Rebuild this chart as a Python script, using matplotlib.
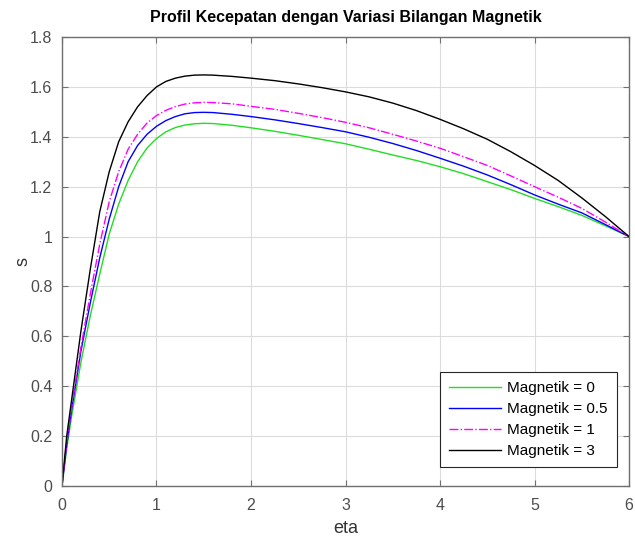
import numpy as np
import matplotlib
matplotlib.use("Agg")
import matplotlib.pyplot as plt
from matplotlib.ticker import FuncFormatter

plt.rcParams['font.family'] = ['Liberation Sans', 'DejaVu Sans']

# nilai
eta = [0, 0.05, 0.1, 0.15, 0.2, 0.3, 0.4, 0.5, 0.6, 0.7, 0.8, 0.9, 1.0,
       1.1, 1.2, 1.3, 1.4, 1.5, 1.6, 1.8, 2.0, 2.25, 2.5, 2.75, 3.0, 3.25,
       3.5, 3.75, 4.0, 4.25, 4.5, 4.75, 5.0, 5.25, 5.5, 5.75, 6.0]

s_m0 = [0, 0.15, 0.275, 0.385, 0.495, 0.683, 0.85, 1.01, 1.13, 1.225, 1.30,
        1.355, 1.393, 1.42, 1.437, 1.447, 1.452, 1.454, 1.453, 1.446, 1.436,
        1.422, 1.406, 1.389, 1.372, 1.35, 1.327, 1.305, 1.28, 1.252, 1.22,
        1.188, 1.153, 1.12, 1.085, 1.043, 1.0]

s_m05 = [0, 0.165, 0.30, 0.42, 0.54, 0.735, 0.915, 1.07, 1.20, 1.30, 1.365,
         1.41, 1.442, 1.465, 1.481, 1.492, 1.497, 1.498, 1.497, 1.49, 1.481,
         1.468, 1.453, 1.437, 1.42, 1.398, 1.373, 1.345, 1.314, 1.282, 1.247,
         1.208, 1.167, 1.13, 1.095, 1.048, 1.0]

s_m1 = [0, 0.175, 0.31, 0.435, 0.555, 0.77, 0.97, 1.14, 1.26, 1.35, 1.41,
        1.455, 1.485, 1.506, 1.521, 1.531, 1.536, 1.538, 1.537, 1.532, 1.522,
        1.51, 1.494, 1.477, 1.458, 1.436, 1.41, 1.383, 1.354, 1.32, 1.285,
        1.243, 1.20, 1.158, 1.113, 1.058, 1.0]

s_m3 = [0, 0.20, 0.34, 0.48, 0.62, 0.87, 1.10, 1.26, 1.38, 1.46, 1.52, 1.565,
        1.60, 1.622, 1.635, 1.643, 1.647, 1.648, 1.647, 1.642, 1.635, 1.625,
        1.612, 1.597, 1.58, 1.56, 1.535, 1.505, 1.47, 1.432, 1.39, 1.34,
        1.285, 1.225, 1.155, 1.08, 1.0]

labels = ['Magnetik = 0', 'Magnetik = 0.5', 'Magnetik = 1', 'Magnetik = 3']

fig = plt.figure(figsize=(6.35, 5.4), dpi=100)
ax = fig.add_axes([0.0976, 0.1, 0.893, 0.8315])

ax.plot(eta, s_m0, color='#22dd22', lw=1.0, label=labels[0])
ax.plot(eta, s_m05, color='#0000ff', lw=1.0, label=labels[1])
ax.plot(eta, s_m1, color='#ff00ff', lw=1.0, ls='-.', label=labels[2])
ax.plot(eta, s_m3, color='#000000', lw=1.0, label=labels[3])

ax.set_xlim(0, 6)
ax.set_ylim(0, 1.8)
ax.set_xticks(np.arange(0, 7, 1))
ax.set_yticks(np.arange(0, 1.81, 0.2))
ax.yaxis.set_major_formatter(FuncFormatter(lambda v, p: '%g' % round(v, 2)))
ax.grid(True, color='#dcdcdc', lw=0.8)
ax.set_axisbelow(True)

for sp in ax.spines.values():
    sp.set_color('#707070')
    sp.set_linewidth(1.0)
ax.tick_params(direction='in', length=4, colors='#707070', labelcolor='#4d4d4d',
               labelsize=11.5, top=True, right=True)
ax.tick_params(axis='x', pad=9)
ax.tick_params(axis='y', pad=7)

ax.set_xlabel('eta', fontsize=13, color='#333333', labelpad=5)
ax.set_ylabel('s', fontsize=13, color='#333333', labelpad=-1)
ax.set_title('Profil Kecepatan dengan Variasi Bilangan Magnetik',
             fontsize=11.5, fontweight='bold', pad=11)

leg = ax.legend(loc='lower right', bbox_to_anchor=(0.979, 0.042),
                borderaxespad=0, fontsize=11, fancybox=False,
                edgecolor='#262626', framealpha=1, borderpad=0.6,
                handlelength=3.4, handletextpad=0.4, labelspacing=0.45)
leg.get_frame().set_linewidth(0.8)

fig.savefig('out.png', dpi=100)
